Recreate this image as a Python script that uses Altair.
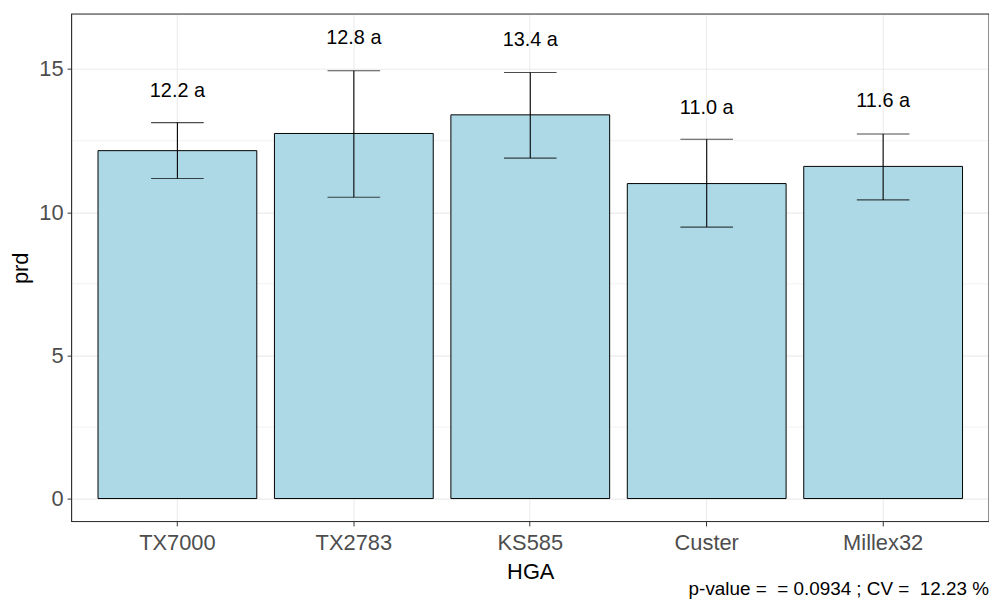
import altair as alt
import pandas as pd

genotypes = ["TX7000", "TX2783", "KS585", "Custer", "Millex32"]
means = [12.15, 12.75, 13.4, 11.0, 11.6]
err_low = [11.18, 10.52, 11.89, 9.48, 10.43]
err_high = [13.13, 14.94, 14.88, 12.55, 12.73]
labels = ["12.2 a", "12.8 a", "13.4 a", "11.0 a", "11.6 a"]
label_y = [14.24, 16.07, 16.03, 13.64, 13.87]
y_ticks = [0, 5, 10, 15]
y_minor = [2.5, 7.5, 12.5]
caption = "p-value =\u00a0 = 0.0934 ; CV =\u00a0 12.23 %"

FONT = "Liberation Sans"
W, H = 924, 511

df = pd.DataFrame({"HGA": genotypes, "prd": means, "lo": err_low, "hi": err_high,
                   "lab": labels, "laby": label_y})
minor_df = pd.DataFrame({"m": y_minor})
cap_df = pd.DataFrame({"t": [caption]})

xscale = alt.Scale(domain=genotypes, paddingInner=0.1, paddingOuter=0.15)
yscale = alt.Scale(domain=[-0.80, 16.92], nice=False, zero=False)

xax = alt.Axis(title="HGA", labelAngle=0, labelFontSize=22, labelColor="#4D4D4D",
               labelFont=FONT, titleFont=FONT, titleFontSize=22, titleColor="black",
               titleFontWeight="normal", tickColor="#333333", tickSize=4.5,
               labelPadding=7, titlePadding=8, domain=False, grid=True,
               gridColor="#EBEBEB", gridWidth=1.1, bandPosition=0.5)
yax = alt.Axis(title="prd", values=y_ticks, labelFontSize=22, labelColor="#4D4D4D",
               labelFont=FONT, titleFont=FONT, titleFontSize=22, titleColor="black",
               titleFontWeight="normal", tickColor="#333333", tickSize=4.5,
               labelPadding=4, titlePadding=6, domain=False, grid=True,
               gridColor="#EBEBEB", gridWidth=1.1)

base = alt.Chart(df)

minor = alt.Chart(minor_df).mark_rule(color="#EBEBEB", strokeWidth=0.6).encode(
    y=alt.Y("m:Q", scale=yscale, axis=yax, title="prd"))

bars = base.mark_bar(fill="#ADD8E6", stroke="black", strokeWidth=1).encode(
    x=alt.X("HGA:N", scale=xscale, sort=genotypes, axis=xax),
    y=alt.Y("prd:Q", scale=yscale, axis=yax, title="prd"))

rules = base.mark_rule(color="black", strokeWidth=1.1).encode(
    x=alt.X("HGA:N", scale=xscale, sort=genotypes, axis=xax),
    y=alt.Y("lo:Q", scale=yscale, axis=yax, title="prd"), y2="hi:Q")

caps_hi = base.mark_tick(color="black", thickness=1.1, size=53).encode(
    x=alt.X("HGA:N", scale=xscale, sort=genotypes, axis=xax),
    y=alt.Y("hi:Q", scale=yscale, axis=yax, title="prd"))
caps_lo = base.mark_tick(color="black", thickness=1.1, size=53).encode(
    x=alt.X("HGA:N", scale=xscale, sort=genotypes, axis=xax),
    y=alt.Y("lo:Q", scale=yscale, axis=yax, title="prd"))

texts = base.mark_text(font=FONT, fontSize=20, color="black", baseline="middle").encode(
    x=alt.X("HGA:N", scale=xscale, sort=genotypes, axis=xax),
    y=alt.Y("laby:Q", scale=yscale, axis=yax, title="prd"),
    text="lab:N")

border = alt.Chart(cap_df).mark_rect(fill=None, fillOpacity=0, stroke="#333333",
                                     strokeWidth=1.1).encode(
    x=alt.value(0), x2=alt.value(W), y=alt.value(0), y2=alt.value(H))

cap = alt.Chart(cap_df).mark_text(font=FONT, fontSize=19, color="black", align="right",
                                  baseline="alphabetic").encode(
    x=alt.value(W), y=alt.value(H + 74), text="t:N")

chart = alt.layer(minor, bars, rules, caps_hi, caps_lo, texts, border, cap).properties(
    width=W, height=H,
    autosize=alt.AutoSizeParams(type="none"),
    padding={"left": 64, "top": 4, "right": 0, "bottom": 77},
).configure_view(stroke=None).configure(background="white")

chart.save("out.html", embed_options={"renderer": "svg", "actions": False})
